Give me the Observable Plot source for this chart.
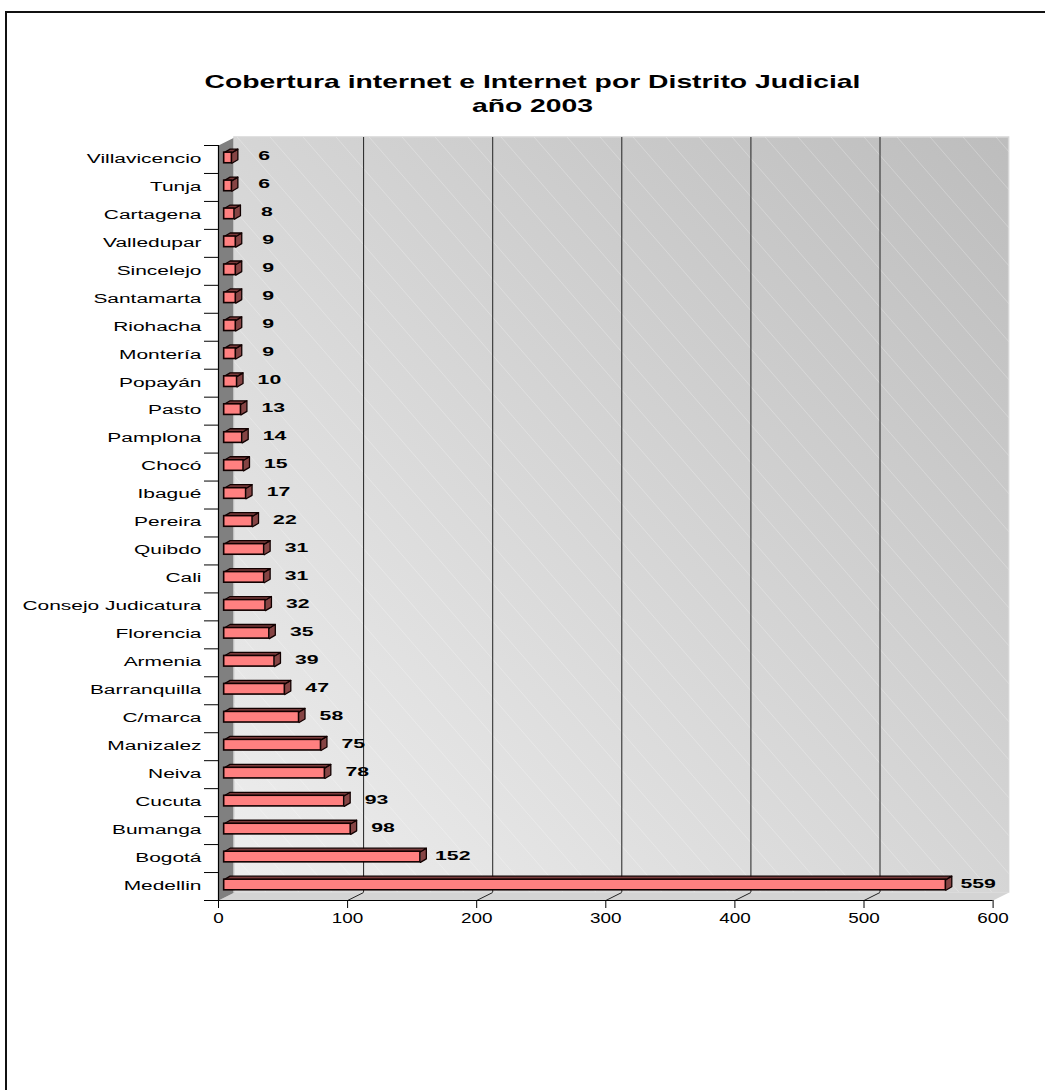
<!DOCTYPE html>
<html>
<head>
<meta charset="utf-8">
<script src="https://cdn.jsdelivr.net/npm/d3@7"></script>
<script src="https://cdn.jsdelivr.net/npm/@observablehq/plot@0.6"></script>
<style>
  html,body{margin:0;background:#fff;}
  #page{position:relative;width:1045px;height:1090px;overflow:hidden;font-family:"Liberation Sans",Arial,sans-serif;}
  #frame{position:absolute;left:5px;top:11px;right:-5px;bottom:-5px;border-left:2px solid #111;border-top:2px solid #111;pointer-events:none;}
  #title{box-sizing:border-box;height:130px;padding:70px 0 0 20px;text-align:center;font-weight:bold;font-size:18.5px;line-height:24px;color:#000;}
  #title div{transform:scaleX(1.53);}
  #chart svg{display:block;}
</style>
</head>
<body>
<div id="page">
  <div id="frame"></div>
  <div id="title"><div>Cobertura internet e Internet por Distrito Judicial</div><div>año 2003</div></div>
  <div id="chart"></div>
</div>
<script>
const categories = ["Villavicencio","Tunja","Cartagena","Valledupar","Sincelejo","Santamarta","Riohacha","Montería","Popayán","Pasto","Pamplona","Chocó","Ibagué","Pereira","Quibdo","Cali","Consejo Judicatura","Florencia","Armenia","Barranquilla","C/marca","Manizalez","Neiva","Cucuta","Bumanga","Bogotá","Medellin"];
const values = [6,6,8,9,9,9,9,9,10,13,14,15,17,22,31,31,32,35,39,47,58,75,78,93,98,152,559];
const xTicks = [0,100,200,300,400,500,600];

const n = categories.length;
const rows = categories.map((name,i)=>({name,value:values[i],i}));

// 3-D depth of the walls and bars, in data units
const wallX = 12.4, wallY = 0.286;
const barX = 4.6, barY = 0.125, barBase = 4.4, barHalf = 0.19, barShift = 0.055;
const top_ = d => d.i + 0.5 - barShift - barHalf;
const bot_ = d => d.i + 0.5 - barShift + barHalf;

const leftWall = [{x:0,y:0},{x:wallX,y:-wallY},{x:wallX,y:n-wallY},{x:0,y:n}];
const floor = [{x:0,y:n},{x:wallX,y:n-wallY},{x:600+wallX,y:n-wallY},{x:600,y:n}];
const topFaces = rows.flatMap(d=>{const a=barBase,b=barBase+d.value,t=top_(d);
  return [{k:d.i,x:a,y:t},{k:d.i,x:a+barX,y:t-barY},{k:d.i,x:b+barX,y:t-barY},{k:d.i,x:b,y:t}];});
const sideFaces = rows.flatMap(d=>{const b=barBase+d.value,t=top_(d),u=bot_(d);
  return [{k:d.i,x:b,y:t},{k:d.i,x:b+barX,y:t-barY},{k:d.i,x:b+barX,y:u-barY},{k:d.i,x:b,y:u}];});

const plot = Plot.plot({
  width:1045, height:960,
  marginTop:15, marginBottom:190, marginLeft:218, marginRight:52.4,
  style:{background:"transparent",fontFamily:"'Liberation Sans',Arial,sans-serif",color:"#000",overflow:"visible"},
  x:{domain:[0,600],axis:null},
  y:{domain:[n,0],axis:null},
  marks:[
    Plot.line(floor,{x:"x",y:"y",fill:"#d4d4d4",stroke:"none"}),
    Plot.line(leftWall,{x:"x",y:"y",fill:"#808080",stroke:"none"}),
    Plot.rect([0],{x1:wallX,x2:600+wallX,y1:-wallY,y2:n-wallY,fill:"url(#wallGrad)",stroke:"#d6d6d6",strokeWidth:1.5}),
    Plot.rect([0],{x1:wallX,x2:600+wallX,y1:-wallY,y2:n-wallY,fill:"url(#wallStripes)"}),
    Plot.ruleX(xTicks.slice(1,-1).map(v=>v+wallX),{y1:-wallY,y2:n-wallY,stroke:"#222",strokeWidth:1}),
    Plot.link(xTicks.slice(1,-1),{x1:d=>d,y1:n,x2:d=>d+wallX,y2:n-wallY,stroke:"#222",strokeWidth:1}),
    Plot.axisX({ticks:xTicks,tickSize:8,tickPadding:5,fontSize:14,label:null,tickFormat:d=>d,stroke:"#000"}),
    Plot.axisY({ticks:d3.range(0,n+1),tickSize:14,tickFormat:()=>"",label:null,stroke:"#000"}),
    Plot.axisY({ticks:d3.range(0,n).map(i=>i+0.5),tickSize:0,tickPadding:17,dy:-1,fontSize:13.5,label:null,tickFormat:v=>categories[Math.floor(v)]}),
    Plot.ruleX([0],{y1:0,y2:n,stroke:"#000",strokeWidth:1.2}),
    Plot.ruleY([n],{x1:0,x2:600,stroke:"#000",strokeWidth:1.2}),
    Plot.line(sideFaces,{x:"x",y:"y",z:"k",fill:"#864444",stroke:"#100",strokeWidth:1.3,curve:"linear"}),
    Plot.line(topFaces,{x:"x",y:"y",z:"k",fill:"#7a3a3a",stroke:"#100",strokeWidth:1.3,curve:"linear"}),
    Plot.rect(rows,{x1:barBase,x2:d=>barBase+d.value,y1:top_,y2:bot_,fill:"#ff8080",stroke:"#100",strokeWidth:1.6}),
    Plot.text(rows,{x:"value",y:d=>d.i+0.5,text:d=>String(d.value),dx:38,dy:-3,fontWeight:"bold",fontSize:12.5,fill:"#000"})
  ]
});

// Gradient + stripe fills for the back wall
const defs = d3.select(plot).insert("defs",":first-child");
const g = defs.append("linearGradient").attr("id","wallGrad").attr("x1",0).attr("y1",1).attr("x2",1).attr("y2",0);
g.append("stop").attr("offset","0%").attr("stop-color","#eeeeee");
g.append("stop").attr("offset","100%").attr("stop-color","#bdbdbd");
const p = defs.append("pattern").attr("id","wallStripes").attr("patternUnits","userSpaceOnUse").attr("width",33).attr("height",38);
p.append("path").attr("d","M0,0L33,38").attr("stroke","#fff").attr("stroke-opacity",0.25).attr("stroke-width",1).attr("fill","none");

// The source chart's text is stretched horizontally
function stretch(sel,k){
  d3.select(plot).selectAll(sel).each(function(){
    const t=this.getAttribute("transform")||"";
    this.setAttribute("transform",t+` scale(${k},1)`);
  });
}
stretch('g[aria-label="y-axis tick label"] text',1.55);
stretch('g[aria-label="x-axis tick label"] text',1.35);
stretch('g[aria-label="text"] text',1.7);

document.getElementById("chart").appendChild(plot);
</script>
</body>
</html>
